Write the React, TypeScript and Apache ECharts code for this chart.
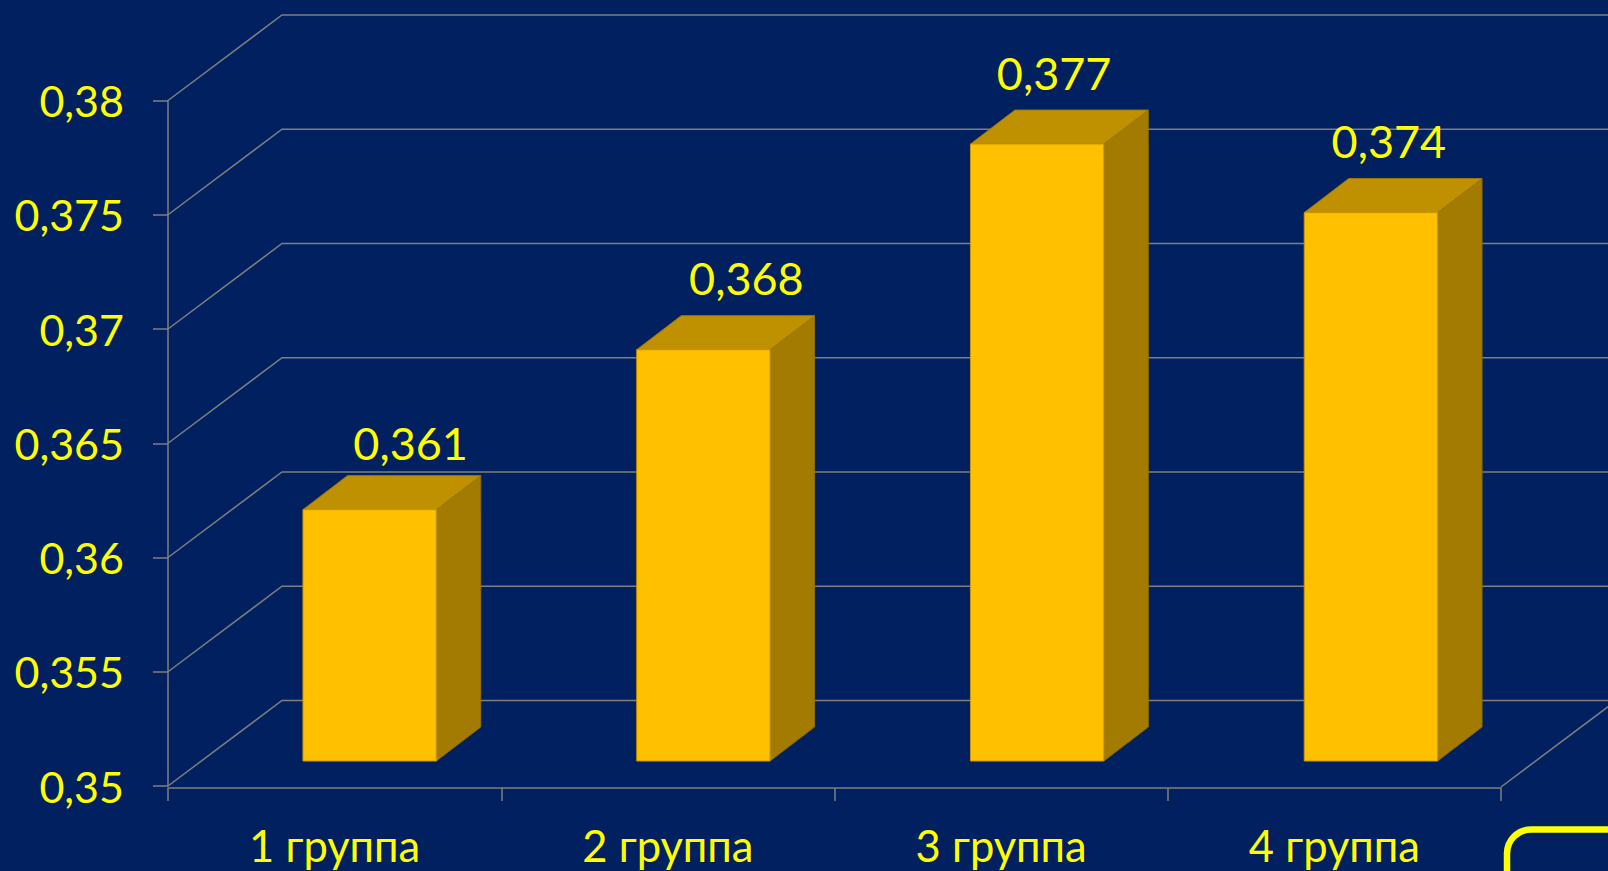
import React, { useEffect, useRef } from "react";
import * as echarts from "echarts";

const categories = ["1 группа", "2 группа", "3 группа", "4 группа"];
const values = [0.361, 0.368, 0.377, 0.374];
const wallTicks = [0.35, 0.355, 0.36, 0.365, 0.37, 0.375, 0.38];
const labelShift = [41, 43, 17, 18];
const labelLift = [10, 15, 15, 15];

const BG = "#002060";
const YELLOW = "#FFFF00";
const GRAY = "#7F7F7F";
const FONT = "Lato, 'Open Sans', sans-serif";

export default function App() {
  const ref = useRef<HTMLDivElement>(null);
  useEffect(() => {
    const chart = echarts.init(ref.current!, null, { renderer: "svg" });
    chart.setOption({
      animation: false,
      backgroundColor: BG,
      grid: { left: 168, top: 100.5, width: 1333, height: 685.5 },
      graphic: [
        {
          type: "rect",
          z: 10,
          shape: { x: 1507, y: 829.5, width: 300, height: 120, r: 24 },
          style: { fill: "none", stroke: YELLOW, lineWidth: 6.5 },
        },
      ],
      xAxis: {
        type: "category",
        data: categories,
        offset: 2,
        axisLine: { lineStyle: { color: GRAY, width: 1.5 } },
        axisTick: { show: true, length: 13, lineStyle: { color: GRAY, width: 1.5 } },
        axisLabel: { color: YELLOW, fontSize: 43.5, fontFamily: FONT, margin: 35 },
        splitLine: { show: false },
      },
      yAxis: {
        type: "value",
        min: 0.35,
        max: 0.38,
        interval: 0.005,
        axisLine: { show: true, lineStyle: { color: GRAY, width: 1.5 } },
        axisTick: { show: true, length: 15, lineStyle: { color: GRAY, width: 1.5 } },
        axisLabel: {
          color: YELLOW,
          fontSize: 43,
          fontFamily: FONT,
          margin: 44,
          padding: [6, 0, 0, 0],
          formatter: (v: number) => String(v).replace(".", ","),
        },
        splitLine: { show: false },
      },
      series: [
        {
          type: "custom",
          clip: false,
          silent: true,
          z: 1,
          data: wallTicks,
          encode: { y: 0 },
          renderItem: (params: any, api: any) => {
            const sys = params.coordSys;
            const y = api.coord([0, api.value(0)])[1];
            const x0 = sys.x;
            return {
              type: "polyline",
              shape: { points: [[x0, y], [x0 + 114, y - 85.5], [1620, y - 85.5]] },
              style: { stroke: GRAY, fill: "none", lineWidth: 1.5 },
            };
          },
        },
        {
          type: "custom",
          clip: false,
          silent: true,
          z: 1,
          data: [wallTicks[0]],
          encode: { y: 0 },
          renderItem: (params: any, api: any) => {
            const sys = params.coordSys;
            const y = api.coord([0, api.value(0)])[1] + 1;
            const x1 = sys.x + sys.width;
            return {
              type: "line",
              shape: { x1, y1: y, x2: x1 + 114, y2: y - 85.5 },
              style: { stroke: GRAY, fill: "none", lineWidth: 1.5 },
            };
          },
        },
        {
          type: "custom",
          clip: false,
          silent: true,
          z: 3,
          data: values.map((v, i) => [i, v]),
          encode: { x: 0, y: 1 },
          renderItem: (params: any, api: any) => {
            const i = api.value(0);
            const v = api.value(1);
            const p = api.coord([i, v]);
            const base = api.coord([i, 0.35]);
            const band = api.size([1, 0])[0];
            const w = band * 0.4;
            const cx = p[0] + 35 + i * 0.5;
            const l = cx - w / 2;
            const r = l + w;
            const t = p[1] - 25;
            const b = base[1] - 25;
            const dx = 44.5;
            const dy = -34;
            return {
              type: "group",
              children: [
                {
                  type: "polygon",
                  shape: { points: [[r, t], [r + dx, t + dy], [r + dx, b + dy], [r, b]] },
                  style: { fill: "#A37B00", stroke: "#8F6C00", lineWidth: 1 },
                },
                {
                  type: "polygon",
                  shape: { points: [[l, t], [l + dx, t + dy], [r + dx, t + dy], [r, t]] },
                  style: { fill: "#BF9000", stroke: "#A37B00", lineWidth: 1 },
                },
                {
                  type: "rect",
                  shape: { x: l, y: t, width: w, height: b - t },
                  style: { fill: "#FFC000", stroke: "#C99700", lineWidth: 1 },
                },
                {
                  type: "text",
                  x: cx + labelShift[i],
                  y: t + dy - labelLift[i],
                  style: {
                    text: String(v).replace(".", ","),
                    fill: YELLOW,
                    font: `45px ${FONT}`,
                    textAlign: "center",
                    textVerticalAlign: "bottom",
                  },
                },
              ],
            };
          },
        },
      ],
    });
    return () => chart.dispose();
  }, []);
  return <div ref={ref} style={{ position: "fixed", left: 0, top: 0, width: 1608, height: 871 }} />;
}
